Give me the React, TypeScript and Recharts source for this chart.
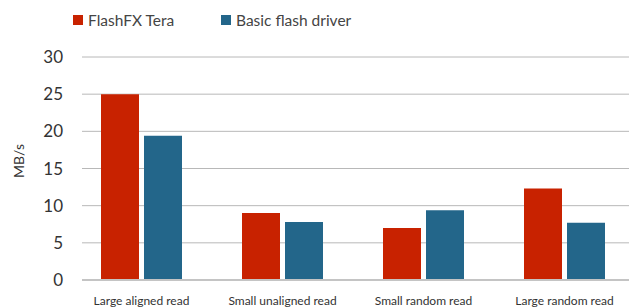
import React from 'react';
import { BarChart, Bar, XAxis, YAxis, CartesianGrid, Legend } from 'recharts';

const categories = ['Large aligned read', 'Small unaligned read', 'Small random read', 'Large random read'];
const flashfxTera = [25.0, 9.0, 7.0, 12.3];
const basicFlash = [19.4, 7.8, 9.4, 7.7];
const yTicks = [0, 5, 10, 15, 20, 25, 30];

const seriesNames = ['FlashFX Tera', 'Basic flash driver'];
const seriesColors = ['#c82200', '#23668a'];

const data = categories.map((c, i) => ({ name: c, tera: flashfxTera[i], basic: basicFlash[i] }));

const FONT = 'Lato, "Open Sans", sans-serif';

const LegendContent = () => (
  <div style={{ height: 30, position: 'relative', fontFamily: FONT, fontSize: 15.5, color: '#444' }}>
    {seriesNames.map((n, i) => (
      <div key={n} style={{ position: 'absolute', left: i === 0 ? 73 : 221, top: 11, display: 'flex', alignItems: 'center', whiteSpace: 'nowrap' }}>
        <span style={{ display: 'inline-block', width: 10, height: 10, background: seriesColors[i], marginRight: 5 }} />
        <span>{n}</span>
      </div>
    ))}
  </div>
);

const YLabel = () => (
  <text x={18} y={161} transform="rotate(-90 18 161)" textAnchor="middle" dominantBaseline="central" fontFamily={FONT} fontSize={14} fill="#333">
    MB/s
  </text>
);

export default function App() {
  return (
    <div style={{ position: 'absolute', left: 0, top: 0, background: '#fff' }}>
      <BarChart width={629} height={307} data={data} margin={{ top: 27, right: 0, bottom: 0, left: 22 }} barSize={38} barGap={5}>
        <Legend verticalAlign="top" align="left" content={<LegendContent />} wrapperStyle={{ top: 0, left: 0, width: 629, height: 30 }} />
        <CartesianGrid vertical={false} stroke="#b8b8b8" />
        <XAxis
          dataKey="name"
          height={27}
          padding={{ left: -11, right: -6 }}
          tickLine={false}
          axisLine={{ stroke: '#c4c4c4', strokeWidth: 2 }}
          tickMargin={10}
          tick={{ fontSize: 12, fill: '#333', fontFamily: FONT }}
          interval={0}
        />
        <YAxis
          width={60}
          domain={[0, 30]}
          ticks={yTicks}
          axisLine={false}
          tickLine={false}
          tickMargin={13}
          tick={{ fontSize: 17, fill: '#333', fontFamily: FONT }}
          label={<YLabel />}
        />
        <Bar dataKey="tera" name={seriesNames[0]} fill={seriesColors[0]} isAnimationActive={false} />
        <Bar dataKey="basic" name={seriesNames[1]} fill={seriesColors[1]} isAnimationActive={false} />
      </BarChart>
    </div>
  );
}
